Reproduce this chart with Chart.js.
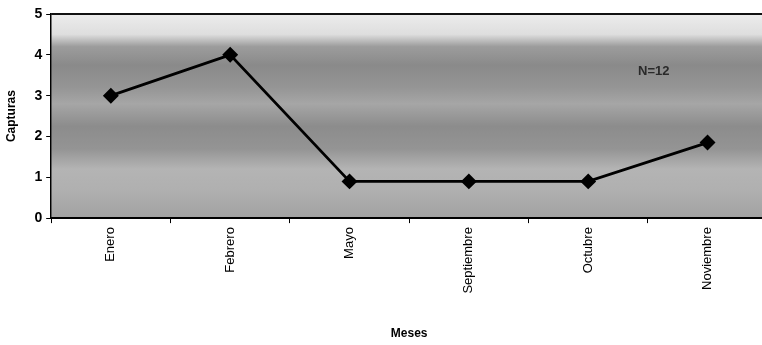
<!DOCTYPE html>
<html>
<head>
<meta charset="utf-8">
<script src="https://cdn.jsdelivr.net/npm/chart.js@4/dist/chart.umd.min.js"></script>
<style>
  html, body { margin: 0; padding: 0; background: #fff; overflow: hidden; }
  #wrap { width: 776px; height: 345px; position: relative; }
</style>
</head>
<body>
<div id="wrap"><canvas id="c" width="776" height="345"></canvas></div>
<script>
// Capturas por mes
const meses = ['Enero', 'Febrero', 'Mayo', 'Septiembre', 'Octubre', 'Noviembre'];
const capturas = [3, 4, 0.9, 0.9, 0.9, 1.85];
const yTicks = [0, 1, 2, 3, 4, 5];
const nota = 'N=12';

// shaded band background behind the plot
const fondo = {
  id: 'fondo',
  beforeDraw(chart) {
    const { ctx, chartArea: a } = chart;
    const g = ctx.createLinearGradient(0, a.top, 0, a.bottom);
    g.addColorStop(0.00, '#ececec');
    g.addColorStop(0.10, '#dedede');
    g.addColorStop(0.16, '#9c9c9c');
    g.addColorStop(0.25, '#8a8a8a');
    g.addColorStop(0.36, '#959595');
    g.addColorStop(0.44, '#a6a6a6');
    g.addColorStop(0.55, '#8c8c8c');
    g.addColorStop(0.66, '#949494');
    g.addColorStop(0.76, '#b4b4b4');
    g.addColorStop(0.86, '#b0b0b0');
    g.addColorStop(1.00, '#a2a2a2');
    ctx.save();
    ctx.fillStyle = g;
    ctx.fillRect(a.left, a.top, a.right - a.left, a.bottom - a.top);
    ctx.strokeStyle = '#111';
    ctx.lineWidth = 2;
    ctx.beginPath();
    ctx.moveTo(a.left, a.top);
    ctx.lineTo(a.right, a.top);
    ctx.stroke();
    ctx.restore();
  },
  afterDatasetsDraw(chart) {
    const { ctx, scales } = chart;
    ctx.save();
    ctx.font = 'bold 13px "Liberation Sans", Arial, sans-serif';
    ctx.fillStyle = '#2a2a2a';
    ctx.textAlign = 'center';
    ctx.textBaseline = 'middle';
    ctx.fillText(nota, scales.x.getPixelForValue(4.55), scales.y.getPixelForValue(3.6));
    ctx.restore();
  }
};

new Chart(document.getElementById('c'), {
  type: 'line',
  data: {
    labels: meses,
    datasets: [{
      data: capturas,
      borderColor: '#000',
      borderWidth: 2.8,
      backgroundColor: '#000',
      pointStyle: 'rectRot',
      pointRadius: 6,
      pointBackgroundColor: '#000',
      pointBorderColor: '#000',
      tension: 0,
      fill: false
    }]
  },
  options: {
    responsive: false,
    animation: false,
    layout: { padding: { left: 4, right: 8, top: 14, bottom: 4 } },
    plugins: { legend: { display: false }, tooltip: { enabled: false } },
    scales: {
      x: {
        offset: true,
        grid: { offset: true, drawOnChartArea: false, color: '#000', tickLength: 5, tickWidth: 1 },
        border: { color: '#000', width: 2 },
        ticks: {
          color: '#000',
          minRotation: 90,
          maxRotation: 90,
          padding: 4,
          font: { family: '"Liberation Sans", Arial, sans-serif', size: 13 }
        },
        title: {
          display: true,
          text: 'Meses',
          color: '#000',
          padding: { top: 29, bottom: 0 },
          font: { family: '"Liberation Sans", Arial, sans-serif', size: 12, weight: 'bold' }
        }
      },
      y: {
        min: 0,
        max: 5,
        afterBuildTicks(axis) { axis.ticks = yTicks.map(v => ({ value: v })); },
        grid: { drawOnChartArea: false, color: '#000', tickLength: 5 },
        border: { color: '#000', width: 1.5 },
        ticks: {
          color: '#000',
          padding: 4,
          font: { family: '"Liberation Sans", Arial, sans-serif', size: 14, weight: 'bold' }
        },
        title: {
          display: true,
          text: 'Capturas',
          color: '#000',
          padding: { top: 0, bottom: 12 },
          font: { family: '"Liberation Sans", Arial, sans-serif', size: 12, weight: 'bold' }
        }
      }
    }
  },
  plugins: [fondo]
});
</script>
</body>
</html>
